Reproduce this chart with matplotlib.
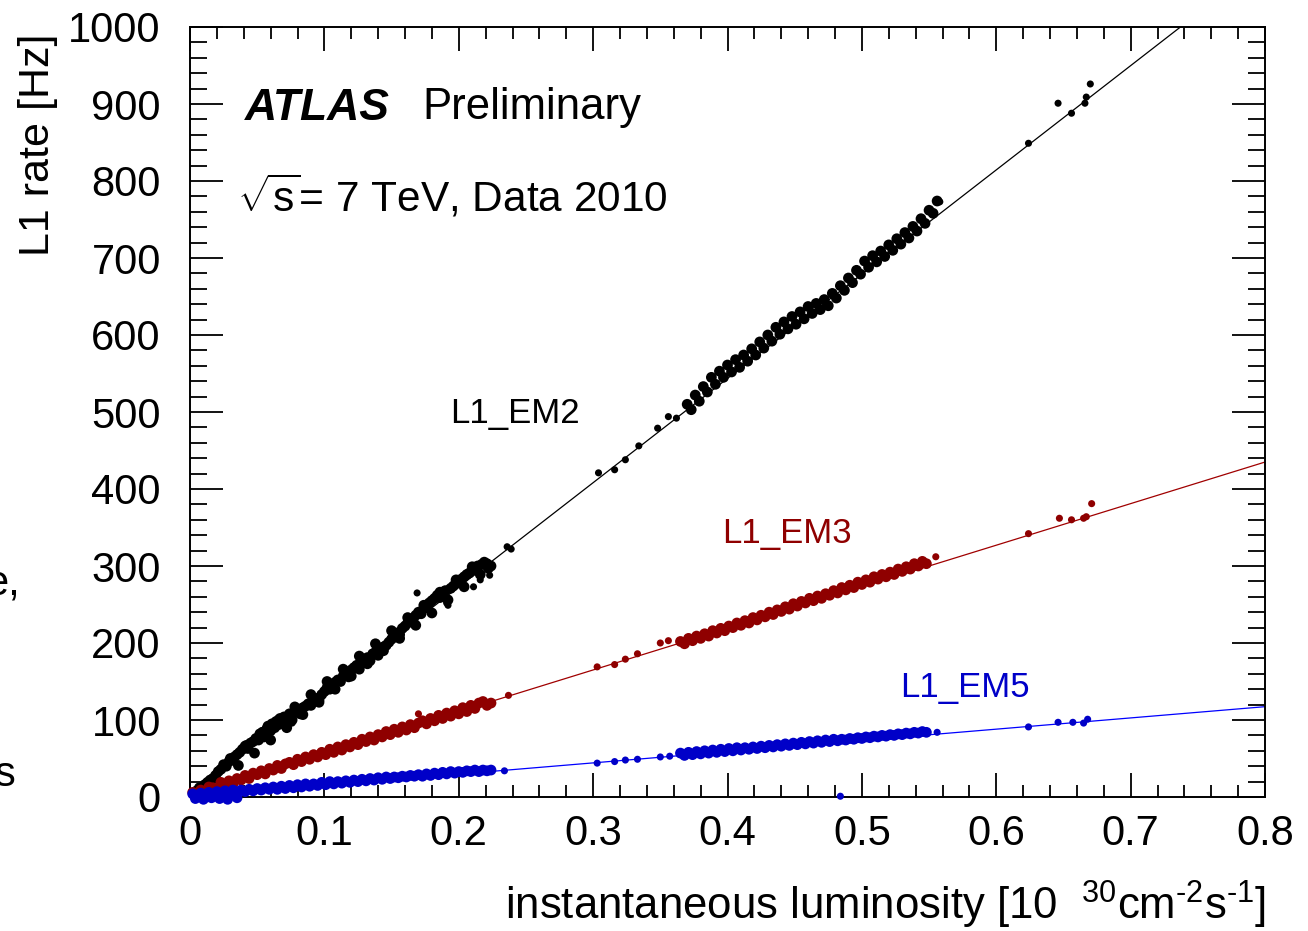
import numpy as np
import matplotlib
matplotlib.use("Agg")
import matplotlib.pyplot as plt
from matplotlib.ticker import MultipleLocator

plt.rcParams['font.family'] = ['Liberation Sans', 'DejaVu Sans']
plt.rcParams['mathtext.fontset'] = 'custom'
plt.rcParams['mathtext.rm'] = 'Liberation Sans'
plt.rcParams['mathtext.it'] = 'Liberation Sans:italic'
plt.rcParams['mathtext.bf'] = 'Liberation Sans:bold'
plt.rcParams['mathtext.default'] = 'regular'

# ---- data ----
x_ticks = [0.0, 0.1, 0.2, 0.3, 0.4, 0.5, 0.6, 0.7, 0.8]
x_tick_labels = ['0', '0.1', '0.2', '0.3', '0.4', '0.5', '0.6', '0.7', '0.8']

# L1_EM2 (black): dense runs, then isolated points
em2_band_x = [0.003, 0.005, 0.007, 0.009, 0.011, 0.013, 0.015, 0.017, 0.019, 0.021, 0.023, 0.025, 0.027,
              0.029, 0.031, 0.033, 0.035, 0.037, 0.039, 0.041, 0.043, 0.045, 0.047, 0.049, 0.051, 0.052,
              0.054, 0.055, 0.057, 0.058, 0.060, 0.061, 0.063, 0.064, 0.066, 0.067, 0.069, 0.070, 0.072,
              0.074, 0.076, 0.078, 0.080, 0.082, 0.084, 0.086, 0.088, 0.090, 0.092, 0.094, 0.096, 0.098,
              0.100, 0.102, 0.104, 0.106, 0.108, 0.110, 0.112, 0.114, 0.116, 0.118, 0.120, 0.122, 0.124,
              0.126, 0.128, 0.130, 0.132, 0.134, 0.136, 0.138, 0.140, 0.142, 0.144, 0.146, 0.148, 0.150,
              0.152, 0.154, 0.156, 0.158, 0.160, 0.162, 0.164, 0.166, 0.168, 0.170, 0.172, 0.174,
              0.176, 0.178, 0.180, 0.182, 0.184, 0.186, 0.188, 0.190, 0.194, 0.196, 0.198,
              0.200, 0.202, 0.204, 0.206, 0.208, 0.210, 0.212, 0.214, 0.217, 0.219, 0.221, 0.224,
              0.030, 0.036, 0.042, 0.048, 0.054, 0.060, 0.066, 0.072, 0.078, 0.084, 0.090, 0.096,
              0.102, 0.108, 0.114, 0.120, 0.126, 0.132, 0.138, 0.144, 0.150, 0.156, 0.162, 0.168,
              0.174, 0.180, 0.186, 0.192, 0.198, 0.204, 0.210, 0.216, 0.222,
              0.370, 0.373, 0.376, 0.379, 0.382, 0.385, 0.388, 0.391, 0.394, 0.397, 0.400, 0.403, 0.406,
              0.409, 0.412, 0.415, 0.418, 0.421, 0.424, 0.427, 0.430, 0.433, 0.436, 0.439, 0.442, 0.445,
              0.448, 0.451, 0.454, 0.457, 0.460, 0.463, 0.466, 0.469, 0.472, 0.475, 0.478, 0.481, 0.484,
              0.487, 0.490, 0.493, 0.496, 0.499, 0.502, 0.505, 0.508, 0.511, 0.514, 0.517, 0.520, 0.523,
              0.526, 0.529, 0.532, 0.535, 0.538, 0.541, 0.544, 0.547, 0.550, 0.553, 0.556]
em2_band_y = [5, 8, 12, 10, 16, 19, 22, 24, 28, 33, 36, 42, 40,
              46, 48, 52, 55, 58, 62, 66, 63, 70, 72, 76, 74, 82,
              84, 78, 88, 92, 86, 95, 90, 98, 94, 102, 99, 104, 100,
              108, 100, 110, 112, 108, 116, 118, 121, 119, 125, 128, 126, 133,
              137, 142, 140, 144, 149, 152, 150, 157, 160, 156, 165, 168, 171,
              166, 174, 178, 181, 177, 186, 188, 184, 192, 195, 197, 201, 205,
              209, 213, 211, 219, 222, 226, 230, 228, 236, 240, 238, 245,
              247, 252, 255, 258, 262, 259, 266, 268, 271, 274, 277,
              280, 283, 286, 289, 291, 294, 297, 300, 302, 305, 303, 300,
              50, 41, 67, 57, 84, 74, 100, 90, 117, 107, 133, 123,
              150, 140, 166, 157, 183, 173, 199, 190, 216, 206, 233, 223,
              249, 239, 266, 256, 282, 273, 299, 289, 297,
              510, 503, 522, 514, 533, 526, 545, 536, 553, 545, 561, 552, 568,
              558, 574, 566, 582, 574, 591, 583, 600, 592, 610, 601, 617, 608,
              624, 614, 630, 621, 637, 628, 641, 633, 646, 638, 654, 648, 664,
              658, 674, 668, 684, 679, 696, 688, 703, 695, 709, 702, 717, 710,
              725, 718, 733, 726, 741, 735, 751, 745, 762, 758, 774]
em2_iso_x = [0.076, 0.102, 0.169, 0.191, 0.192, 0.211, 0.216, 0.223, 0.236, 0.239,
             0.304, 0.316, 0.324, 0.334, 0.348, 0.356, 0.362, 0.558,
             0.624, 0.646, 0.656, 0.666, 0.667, 0.670]
em2_iso_y = [96, 146, 265, 252, 249, 273, 282, 288, 325, 322,
             421, 425, 438, 456, 479, 494, 492, 773,
             849, 901, 888, 901, 909, 926]

# L1_EM3 (dark red)
em3_band_x = [0.002, 0.005, 0.008, 0.011, 0.014, 0.017, 0.020, 0.023, 0.026, 0.029, 0.032, 0.035, 0.038,
              0.041, 0.044, 0.047, 0.050, 0.053, 0.056, 0.059, 0.062, 0.065, 0.068, 0.071, 0.074, 0.077,
              0.080, 0.083, 0.086, 0.089, 0.092, 0.095, 0.098, 0.101, 0.104, 0.107, 0.110, 0.113, 0.116,
              0.119, 0.122, 0.125, 0.128, 0.131, 0.134, 0.137, 0.140, 0.143, 0.146, 0.149, 0.152, 0.155,
              0.158, 0.161, 0.164, 0.167, 0.170, 0.173, 0.176, 0.179, 0.182, 0.185, 0.188, 0.191,
              0.194, 0.197, 0.200, 0.203, 0.206, 0.209, 0.212, 0.215, 0.218, 0.221, 0.224,
              0.365, 0.368, 0.371, 0.374, 0.377, 0.380, 0.383, 0.386, 0.389, 0.392, 0.395, 0.398, 0.401,
              0.404, 0.407, 0.410, 0.413, 0.416, 0.419, 0.422, 0.425, 0.428, 0.431, 0.434, 0.437, 0.440,
              0.443, 0.446, 0.449, 0.452, 0.455, 0.458, 0.461, 0.464, 0.467, 0.470, 0.473, 0.476, 0.479,
              0.482, 0.485, 0.488, 0.491, 0.494, 0.497, 0.500, 0.503, 0.506, 0.509, 0.512, 0.515, 0.518,
              0.521, 0.524, 0.527, 0.530, 0.533, 0.536, 0.539, 0.542, 0.545, 0.548]
em3_band_y = [6, 4, 9, 6, 13, 12, 11, 19, 16, 21, 17, 24, 22,
              28, 24, 31, 29, 34, 30, 37, 35, 41, 37, 43, 45, 42,
              49, 46, 52, 49, 55, 52, 58, 55, 62, 58, 65, 61, 68,
              65, 71, 68, 75, 72, 78, 74, 81, 78, 85, 81, 88, 84,
              91, 87, 94, 90, 96, 99, 95, 102, 99, 106, 102, 109,
              105, 112, 108, 116, 111, 119, 115, 122, 124, 119, 122,
              202, 199, 206, 203, 209, 206, 212, 209, 216, 213, 219, 216, 222,
              220, 226, 223, 229, 226, 233, 230, 236, 234, 240, 237, 243, 241,
              247, 244, 251, 248, 254, 252, 258, 255, 261, 258, 264, 262, 268,
              265, 272, 269, 275, 272, 279, 276, 282, 279, 286, 283, 289, 286,
              292, 289, 296, 293, 299, 296, 303, 300, 306, 303]
em3_iso_x = [0.170, 0.237, 0.303, 0.316, 0.324, 0.333, 0.350, 0.356,
             0.555, 0.624, 0.647, 0.656, 0.665, 0.667, 0.671]
em3_iso_y = [108, 132, 169, 172, 179, 186, 200, 203,
             312, 342, 362, 360, 362, 364, 381]

# L1_EM5 (blue)
em5_band_x = [0.002, 0.005, 0.008, 0.011, 0.014, 0.017, 0.020, 0.023, 0.026, 0.029, 0.032, 0.035, 0.038,
              0.041, 0.044, 0.047, 0.050, 0.053, 0.056, 0.059, 0.062, 0.065, 0.068, 0.071, 0.074, 0.077,
              0.080, 0.083, 0.086, 0.089, 0.092, 0.095, 0.098, 0.101, 0.104, 0.107, 0.110, 0.113, 0.116,
              0.119, 0.122, 0.125, 0.128, 0.131, 0.134, 0.137, 0.140, 0.143, 0.146, 0.149, 0.152, 0.155,
              0.158, 0.161, 0.164, 0.167, 0.170, 0.173, 0.176, 0.179, 0.182, 0.185, 0.188, 0.191, 0.194,
              0.197, 0.200, 0.203, 0.206, 0.209, 0.212, 0.215, 0.218, 0.221, 0.224,
              0.004, 0.010, 0.016, 0.022, 0.028, 0.035,
              0.365, 0.368, 0.371, 0.374, 0.377, 0.380, 0.383, 0.386, 0.389, 0.392, 0.395, 0.398, 0.401,
              0.404, 0.407, 0.410, 0.413, 0.416, 0.419, 0.422, 0.425, 0.428, 0.431, 0.434, 0.437, 0.440,
              0.443, 0.446, 0.449, 0.452, 0.455, 0.458, 0.461, 0.464, 0.467, 0.470, 0.473, 0.476, 0.479,
              0.482, 0.485, 0.488, 0.491, 0.494, 0.497, 0.500, 0.503, 0.506, 0.509, 0.512, 0.515, 0.518,
              0.521, 0.524, 0.527, 0.530, 0.533, 0.536, 0.539, 0.542, 0.545, 0.548]
em5_band_y = [4, 1, 5, 2, 6, 3, 7, 4, 8, 5, 9, 6, 9,
              7, 10, 8, 11, 9, 12, 10, 13, 10, 14, 11, 15, 12,
              16, 13, 17, 14, 17, 15, 19, 16, 20, 17, 20, 18, 21,
              19, 22, 20, 23, 21, 24, 22, 25, 23, 26, 24, 26, 25,
              27, 26, 28, 27, 29, 27, 30, 28, 31, 29, 32, 30, 33,
              31, 33, 32, 34, 33, 35, 33, 35, 34, 35,
              -2, -3, -1, -2, -3, -1,
              57, 54, 58, 55, 59, 56, 60, 57, 61, 58, 62, 59, 63,
              60, 64, 61, 64, 62, 65, 63, 66, 64, 67, 65, 68, 66,
              69, 67, 70, 68, 71, 69, 72, 70, 73, 71, 74, 72, 75,
              73, 75, 74, 76, 75, 77, 76, 78, 77, 79, 78, 80, 79,
              81, 80, 82, 81, 83, 82, 84, 83, 85, 84]
em5_iso_x = [0.234, 0.303, 0.316, 0.324, 0.333, 0.350, 0.357,
             0.556, 0.624, 0.646, 0.657, 0.665, 0.668, 0.484]
em5_iso_y = [34, 44, 46, 48, 49, 52, 53,
             84, 91, 97, 97, 96, 101, 1]

# linear fits (slope [Hz per 1e30], offset [Hz])
fit_slope = {'em2': 1354.0, 'em3': 540.0, 'em5': 146.0}
fit_offset = {'em2': 2.0, 'em3': 3.0, 'em5': 0.5}

c_em2 = 'black'
c_em3 = '#8f0000'
c_em5 = '#0000c8'

fig = plt.figure(figsize=(13.08, 9.31), dpi=100)
ax = fig.add_axes([190 / 1308, 1 - 797 / 931, 1075 / 1308, 770 / 931])

xfit = np.array([0.0, 0.8])
for key, lc in [('em2', 'black'), ('em3', '#a00000'), ('em5', '#0000ff')]:
    ax.plot(xfit, fit_slope[key] * xfit + fit_offset[key], color=lc, lw=0.9, zorder=2)

band_size = 60
iso_size = 26
for bx, by, ix, iy, col in [(em2_band_x, em2_band_y, em2_iso_x, em2_iso_y, c_em2),
                            (em3_band_x, em3_band_y, em3_iso_x, em3_iso_y, c_em3),
                            (em5_band_x, em5_band_y, em5_iso_x, em5_iso_y, c_em5)]:
    ax.scatter(bx, by, s=band_size, color=col, edgecolors='none', zorder=3, clip_on=False)
    ax.scatter(ix, iy, s=iso_size, color=col, edgecolors='none', zorder=3, clip_on=False)

ax.set_xticks(x_ticks)
ax.set_xticklabels(x_tick_labels)
ax.xaxis.set_minor_locator(MultipleLocator(0.02))
ax.yaxis.set_major_locator(MultipleLocator(100))
ax.yaxis.set_minor_locator(MultipleLocator(20))
ax.set_xlim(0, 0.8)
ax.set_ylim(0, 1000)

ax.tick_params(axis='both', which='both', direction='in', top=True, right=True,
               width=1.3, labelsize=30)
ax.tick_params(axis='x', which='major', length=17, pad=12)
ax.tick_params(axis='x', which='minor', length=8.5)
ax.tick_params(axis='y', which='major', length=24, pad=21)
ax.tick_params(axis='y', which='minor', length=12)
for sp in ax.spines.values():
    sp.set_linewidth(1.4)


def axpos(px, py):
    return (px - 190) / 1075, (797 - py) / 770


ax.text(*axpos(245, 108), 'ATLAS', fontsize=32, fontweight='bold', fontstyle='italic',
        transform=ax.transAxes, va='center', ha='left')
ax.text(*axpos(422, 108), 'Preliminary', fontsize=31.5,
        transform=ax.transAxes, va='center', ha='left')
ax.text(*axpos(237, 197), r'$\sqrt{s}$= 7 TeV, Data 2010', fontsize=30.5,
        transform=ax.transAxes, va='center', ha='left')
ax.text(*axpos(450, 413), 'L1_EM2', fontsize=25, color=c_em2,
        transform=ax.transAxes, va='center', ha='left')
ax.text(*axpos(722, 533), 'L1_EM3', fontsize=25, color=c_em3,
        transform=ax.transAxes, va='center', ha='left')
ax.text(*axpos(900, 687), 'L1_EM5', fontsize=25, color=c_em5,
        transform=ax.transAxes, va='center', ha='left')

fig.text(38 / 1308, 1 - 33 / 931, 'L1 rate [Hz]', rotation=90, fontsize=31,
         ha='center', va='top')
fig.text(1266 / 1308, 1 - 920 / 931,
         r'instantaneous luminosity [10  $^{30}$cm$^{\text{-}2}$s$^{\text{-}1}$]',
         fontsize=31.5, ha='right', va='baseline')

# slide text cut off at the left edge of the reference
fig.text(20 / 1308, 1 - 583 / 931, 'e,', fontsize=30, ha='right', va='center')
fig.text(16 / 1308, 1 - 775 / 931, 's', fontsize=30, ha='right', va='center')

fig.savefig('out.png', dpi=100)
